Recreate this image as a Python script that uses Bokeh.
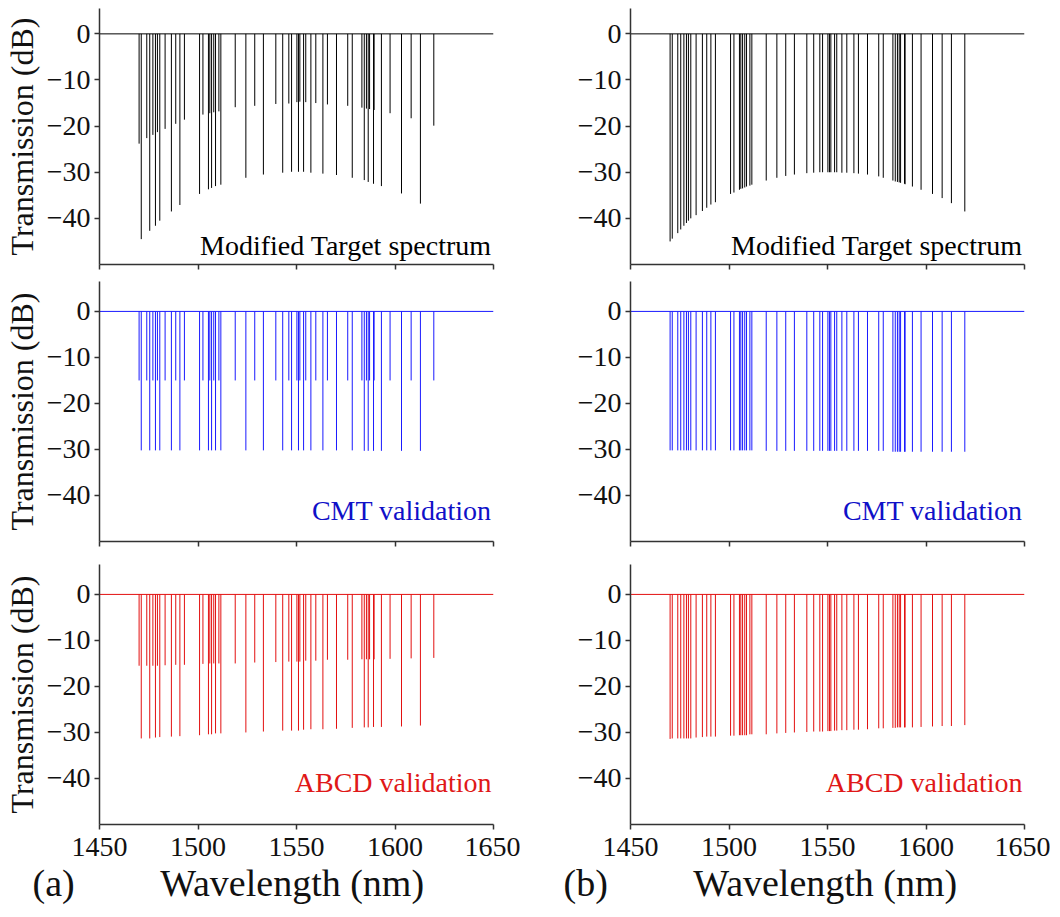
from bokeh.plotting import figure
from bokeh.layouts import column, row
from bokeh.models import Range1d, Label, FixedTicker, Title
from bokeh.embed import file_html
from bokeh.resources import INLINE

# ---------------- data ----------------
wavelength_nm = [
    1470.1, 1471.2, 1474.0, 1475.5, 1477.1, 1478.4, 1479.4, 1480.6, 1483.3, 1486.5, 1488.7, 1490.8, 1493.1,
    1500.8, 1502.5, 1505.3, 1506.0, 1506.9, 1508.0, 1508.9, 1510.6, 1511.6,
    1518.9, 1524.3, 1528.8, 1533.2, 1539.5, 1543.0, 1546.1, 1547.5, 1550.2, 1551.0, 1551.7, 1553.6, 1554.7,
    1557.3, 1559.8, 1563.4, 1565.7, 1570.3, 1576.0, 1578.3,
    1583.2, 1584.4, 1585.5, 1586.4, 1587.1, 1589.1, 1589.4, 1593.1, 1597.5, 1603.3, 1608.2, 1612.9, 1619.7,
]

a_target_db = [
    -23.8, -44.5, -22.6, -42.7, -21.9, -41.6, -21.3, -40.5, -20.6, -38.5, -19.5, -37.1, -18.6,
    -34.7, -17.5, -33.7, -17.2, -33.4, -17.0, -33.0, -16.8, -32.7,
    -15.9, -31.2, -15.6, -30.5, -15.2, -30.1, -15.1, -29.9, -14.8, -29.9, -14.7, -29.9, -14.8,
    -30.1, -15.0, -30.3, -15.3, -30.6, -15.6, -31.2,
    -16.0, -31.7, -16.2, -32.1, -16.3, -32.5, -16.5, -33.0, -17.2, -34.6, -18.3, -36.8, -19.9,
]

a_cmt_db = [
    -15.0, -30.2, -15.0, -30.2, -15.0, -30.2, -15.0, -30.2, -15.0, -30.2, -15.0, -30.2, -15.0,
    -30.2, -15.0, -30.2, -15.0, -30.2, -15.0, -30.2, -15.0, -30.2,
    -15.0, -30.2, -15.0, -30.2, -15.0, -30.2, -15.0, -30.2, -15.0, -30.2, -15.0, -30.2, -15.0,
    -30.2, -15.0, -30.2, -15.0, -30.2, -15.0, -30.2,
    -15.0, -30.3, -15.0, -30.3, -15.0, -30.3, -15.0, -30.3, -15.0, -30.3, -15.0, -30.3, -15.0,
]

a_abcd_db = [
    -15.5, -31.3, -15.5, -31.3, -15.5, -31.1, -15.5, -31.0, -15.4, -30.9, -15.3, -30.8, -15.3,
    -30.6, -15.1, -30.4, -15.0, -30.4, -15.0, -30.2, -15.0, -30.2,
    -15.0, -30.0, -14.8, -29.8, -14.7, -29.6, -14.6, -29.6, -14.6, -29.6, -14.6, -29.4, -14.4,
    -29.3, -14.4, -29.3, -14.2, -29.2, -14.2, -29.0,
    -14.1, -28.9, -14.1, -28.9, -14.1, -28.8, -14.1, -28.8, -14.0, -28.7, -13.9, -28.5, -13.8,
]

b_target_db = [
    -45.0, -44.4, -43.2, -42.4, -41.6, -41.0, -40.5, -40.0, -39.3, -38.4, -37.7, -37.0, -36.5,
    -34.7, -34.4, -33.8, -33.6, -33.5, -33.3, -33.1, -32.9, -32.7,
    -31.8, -31.2, -30.8, -30.5, -30.2, -30.1, -30.0, -30.0, -30.0, -30.0, -30.0, -30.0, -30.0,
    -30.1, -30.1, -30.2, -30.3, -30.5, -30.9, -31.2,
    -31.8, -32.0, -32.1, -32.2, -32.3, -32.5, -32.6, -33.1, -33.8, -34.7, -35.6, -36.7, -38.5,
]

b_cmt_db = [
    -30.2, -30.2, -30.2, -30.2, -30.2, -30.2, -30.2, -30.2, -30.2, -30.2, -30.2, -30.2, -30.2,
    -30.2, -30.2, -30.2, -30.2, -30.2, -30.2, -30.2, -30.2, -30.2,
    -30.3, -30.3, -30.3, -30.3, -30.3, -30.3, -30.3, -30.3, -30.3, -30.3, -30.3, -30.3, -30.3,
    -30.3, -30.3, -30.3, -30.3, -30.3, -30.3, -30.3,
    -30.5, -30.5, -30.5, -30.5, -30.5, -30.5, -30.5, -30.5, -30.5, -30.5, -30.5, -30.5, -30.5,
]

b_abcd_db = [
    -31.4, -31.3, -31.3, -31.3, -31.3, -31.3, -31.3, -31.3, -31.1, -31.0, -30.9, -30.9, -30.9,
    -30.7, -30.7, -30.6, -30.6, -30.6, -30.6, -30.6, -30.4, -30.4,
    -30.4, -30.2, -30.1, -30.0, -29.9, -29.8, -29.8, -29.8, -29.7, -29.7, -29.7, -29.6, -29.6,
    -29.5, -29.5, -29.4, -29.4, -29.3, -29.1, -29.1,
    -29.0, -29.0, -28.9, -28.9, -28.9, -28.9, -28.9, -28.9, -28.8, -28.7, -28.6, -28.6, -28.4,
]

spectrum_span_nm = [1450, 1650]
baseline_db = 0.0

x_ticks = [1450, 1500, 1550, 1600, 1650]
y_ticks = [0, -10, -20, -30, -40]

panel_texts = ["Modified Target spectrum", "CMT validation", "ABCD validation"]
column_tags = ["(a)", "(b)"]
y_title = "Transmission (dB)"
x_title = "Wavelength (nm)"

# ---------------- styling ----------------
FONT = "Liberation Serif"
AXIS_COL = "#333333"
TXT_COL = "#111111"
BLACK = "#000000"
BLUE_LINE = "#1a1aff"
BLUE_TEXT = "#1010c8"
RED_LINE = "#e31010"
RED_TEXT = "#e01818"

FRAME_W = 394
ROWS = [
    dict(y_top=5.5, fh=256, bt=8, bb=10, ty=-45.9),
    dict(y_top=6.5, fh=260, bt=7, bb=10, ty=-43.3),
    dict(y_top=6.5, fh=260, bt=13, bb=89, ty=-40.9),
]
NBSP = "\u00a0"


def make_panel(depths, line_color, text, text_color, r, col):
    cfg = ROWS[r]
    last = (r == 2)
    p = figure(
        frame_width=FRAME_W, frame_height=cfg["fh"],
        x_range=Range1d(spectrum_span_nm[0], spectrum_span_nm[1]),
        y_range=Range1d(-50, cfg["y_top"]),
        output_backend="svg", toolbar_location=None,
        min_border_left=99 if col == 0 else 110,
        min_border_right=27 if col == 0 else 26,
        min_border_top=cfg["bt"], min_border_bottom=cfg["bb"],
    )
    p.outline_line_color = None
    p.grid.visible = False
    p.background_fill_color = "white"
    p.border_fill_color = "white"

    zeros = [baseline_db] * len(wavelength_nm)
    p.line(x=spectrum_span_nm, y=[baseline_db, baseline_db], line_color=line_color, line_width=1)
    p.segment(x0=wavelength_nm, y0=zeros, x1=wavelength_nm, y1=depths,
              line_color=line_color, line_width=1)

    for ax in (p.xaxis[0], p.yaxis[0]):
        ax.axis_line_color = AXIS_COL
        ax.axis_line_width = 1.5
        ax.major_tick_line_color = AXIS_COL
        ax.major_tick_line_width = 1.5
        ax.major_tick_in = 0
        ax.major_tick_out = 5
        ax.minor_tick_line_color = None
        ax.major_label_text_font = FONT
        ax.major_label_text_font_size = "28px"
        ax.major_label_text_color = TXT_COL
        ax.axis_label_text_font = FONT
        ax.axis_label_text_font_style = "normal"
        ax.axis_label_text_color = TXT_COL

    xa = p.xaxis[0]
    if last:
        xa.ticker = FixedTicker(ticks=x_ticks)
        xa.major_label_standoff = 8
    else:
        # tick marks only, no labels
        xa.ticker = FixedTicker(ticks=[], minor_ticks=x_ticks)
        xa.minor_tick_line_color = AXIS_COL
        xa.minor_tick_line_width = 1.5
        xa.minor_tick_in = 0
        xa.minor_tick_out = 5
        xa.major_label_standoff = 0

    ya = p.yaxis[0]
    ya.ticker = FixedTicker(ticks=y_ticks)
    ya.major_label_standoff = 4
    if col == 0:
        ya.axis_label = y_title
        ya.axis_label_text_font_size = "32px"
        ya.axis_label_standoff = 4

    p.add_layout(Label(x=spectrum_span_nm[1] - 1, y=cfg["ty"], text=text,
                       text_align="right", text_baseline="alphabetic",
                       text_font=FONT, text_font_size="28px",
                       text_color=text_color))
    if last:
        t = Title(text=column_tags[col] + NBSP * 9 + x_title,
                  align="left", offset=-67,
                  text_font=FONT, text_font_size="38px", text_font_style="normal",
                  text_color=TXT_COL, standoff=6, vertical_align="top")
        p.add_layout(t, "below")
    return p


panels = [
    [make_panel(a_target_db, BLACK, panel_texts[0], BLACK, 0, 0),
     make_panel(b_target_db, BLACK, panel_texts[0], BLACK, 0, 1)],
    [make_panel(a_cmt_db, BLUE_LINE, panel_texts[1], BLUE_TEXT, 1, 0),
     make_panel(b_cmt_db, BLUE_LINE, panel_texts[1], BLUE_TEXT, 1, 1)],
    [make_panel(a_abcd_db, RED_LINE, panel_texts[2], RED_TEXT, 2, 0),
     make_panel(b_abcd_db, RED_LINE, panel_texts[2], RED_TEXT, 2, 1)],
]

layout = column(*[row(*r) for r in panels])
open("out.html", "w").write(file_html(layout, INLINE))
